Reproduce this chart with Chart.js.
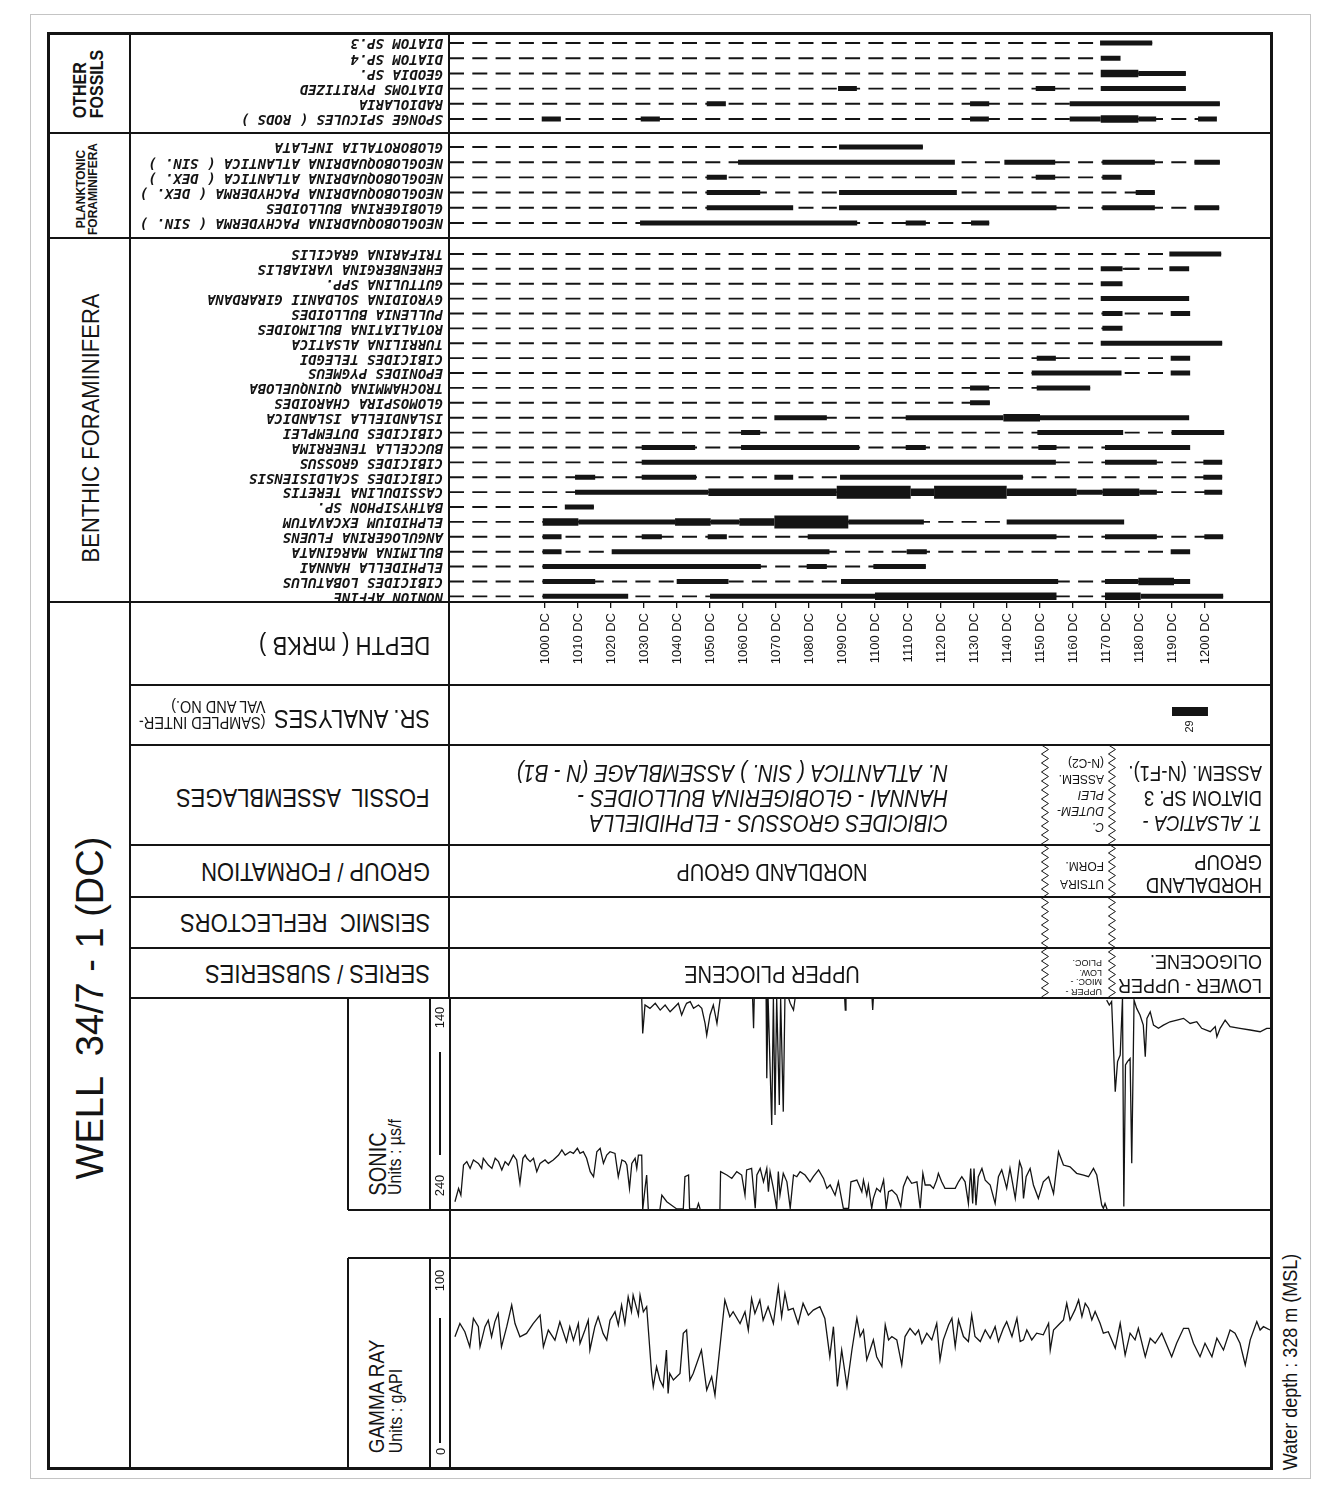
<!DOCTYPE html>
<html lang="en">
<head>
<meta charset="utf-8">
<title>Well 34/7-1 (DC) biostratigraphic range chart</title>
<script src="https://cdn.jsdelivr.net/npm/chart.js@4.4.1/dist/chart.umd.min.js"></script>
<style>
  html, body { margin: 0; padding: 0; background: #fff; }
  #page { position: relative; width: 1326px; height: 1489px; overflow: hidden; }
  .ln { position: absolute; background: #141414; }
  .edge { position: absolute; border: 1px solid #c4c4c4; box-sizing: border-box; }
  .tx { position: absolute; white-space: pre; transform-origin: 50% 50%; color: #141414; }
</style>
</head>
<body>
<div id="page"></div>
<script>
// ---------------- data ----------------
const DEPTH_MIN = 970.9;   // depth (m) at the left edge of the plotting panel
const DEPTH_MAX = 1220.0;  // depth (m) at the right edge
const depthTicks = [1000,1010,1020,1030,1040,1050,1060,1070,1080,1090,1100,1110,1120,1130,1140,1150,1160,1170,1180,1190,1200];

// occurrence ranges: [top depth, base depth, abundance class 1..4]
const otherTaxa = ['DIATOM SP.3','DIATOM SP.4','GEODIA SP.','DIATOMS PYRITIZED','RADIOLARIA','SPONGE SPICULES ( RODS )'];
const otherRanges = [
  [[1168.2,1184.0,2]],
  [[1168.4,1174.4,2]],
  [[1168.4,1179.8,3],[1179.8,1194.2,2]],
  [[1088.8,1094.5,2],[1148.7,1154.6,2],[1168.4,1194.2,2]],
  [[1049.0,1054.8,2],[1128.8,1134.6,2],[1159.0,1204.5,2]],
  [[999.0,1004.8,2],[1029.0,1034.8,2],[1128.8,1134.5,2],[1159.0,1168.4,2],[1168.4,1179.8,3],[1179.8,1185.2,2],[1197.9,1203.6,2]]
];

const planktonTaxa = ['GLOBOROTALIA INFLATA','NEOGLOBOQUADRINA ATLANTICA ( SIN. )','NEOGLOBOQUADRINA ATLANTICA ( DEX. )','NEOGLOBOQUADRINA PACHYDERMA ( DEX. )','GLOBIGERINA BULLOIDES','NEOGLOBOQUADRINA PACHYDERMA ( SIN. )'];
const planktonRanges = [
  [[1089.1,1114.5,2]],
  [[1058.5,1124.2,2],[1139.2,1154.6,2],[1168.9,1184.8,2],[1196.8,1204.5,2]],
  [[1049.0,1055.1,2],[1148.7,1154.6,2],[1168.9,1174.7,2]],
  [[1049.0,1065.2,2],[1089.1,1124.8,2],[1179.0,1184.8,2]],
  [[1049.0,1075.2,2],[1089.1,1155.0,2],[1168.9,1184.8,2],[1196.8,1204.3,2]],
  [[1028.8,1094.6,2],[1109.3,1115.4,2],[1129.1,1134.6,2]]
];

const benthicTaxa = ['TRIFARINA GRACILIS','EHRENBERGINA VARIABLIS','GUTTULINA SPP.','GYROIDINA SOLDANII GIRARDANA','PULLENIA BULLOIDES','ROTALIATINA BULIMOIDES','TURRILINA ALSATICA','CIBICIDES TELEGDI','EPONIDES PYGMEUS','TROCHAMMINA QUINQUELOBA','GLOMOSPIRA CHAROIDES','ISLANDIELLA ISLANDICA','CIBICIDES DUTEMPLEI','BUCCELLA TENERRIMA','CIBICIDES GROSSUS','CIBICIDES SCALDISIENSIS','CASSIDULINA TERETIS','BATHYSIPHON SP.','ELPHIDIUM EXCAVATUM','ANGULOGERINA FLUENS','BULIMINA MARGINATA','ELPHIDELLA HANNAI','CIBICIDES LOBATULUS','NONION AFFINE'];
const benthicRanges = [
  [[1189.2,1204.9,2]],
  [[1168.4,1175.0,2],[1175.0,1180.0,1],[1189.2,1195.2,2]],
  [[1168.4,1175.0,2]],
  [[1168.4,1195.2,2]],
  [[1168.9,1175.0,2],[1189.6,1195.5,2]],
  [[1168.9,1175.0,2]],
  [[1168.4,1205.2,2]],
  [[1149.0,1154.8,2],[1189.6,1195.5,2]],
  [[1147.5,1174.7,2],[1189.6,1195.5,2]],
  [[1128.8,1134.6,2],[1149.0,1165.2,2]],
  [[1128.8,1134.8,2]],
  [[1069.5,1085.4,2],[1109.3,1138.9,2],[1138.9,1150.0,3],[1150.0,1195.2,2]],
  [[1059.4,1065.2,2],[1149.2,1175.2,2],[1189.9,1205.8,2]],
  [[1029.3,1045.5,2],[1059.4,1095.2,2],[1109.3,1115.4,2],[1149.5,1155.0,2],[1169.7,1195.5,2]],
  [[1029.3,1154.8,2],[1169.7,1185.4,2],[1199.5,1205.2,2]],
  [[1009.1,1015.2,2],[1029.3,1045.8,2],[1069.5,1075.2,2],[1089.4,1144.8,2],[1199.5,1205.2,2]],
  [[1009.1,1049.5,2],[1049.5,1088.4,3],[1088.4,1110.8,4],[1110.8,1117.9,3],[1117.9,1139.9,4],[1139.9,1161.1,3],[1161.1,1169.0,2],[1169.0,1180.1,3],[1180.1,1185.4,2],[1199.8,1205.2,2]],
  [[1006.0,1014.8,2]],
  [[999.3,1010.1,3],[1010.1,1039.4,2],[1039.4,1050.2,3],[1050.2,1058.9,2],[1058.9,1069.5,3],[1069.5,1091.9,4],[1091.9,1114.8,2],[1139.9,1175.5,2]],
  [[999.3,1005.0,2],[1029.3,1035.4,2],[1049.3,1055.1,2],[1079.6,1155.0,2],[1169.7,1185.4,2],[1199.8,1205.5,2]],
  [[999.3,1005.0,2],[1020.2,1086.2,2],[1109.6,1115.7,2],[1189.6,1195.5,2]],
  [[999.3,1065.4,2],[1079.3,1085.4,2],[1099.5,1115.4,2]],
  [[999.3,1015.2,2],[1039.9,1055.6,2],[1089.7,1155.5,2],[1169.7,1179.8,2],[1179.8,1190.6,3],[1190.6,1195.5,2]],
  [[999.3,1025.2,2],[1050.0,1100.0,2],[1100.0,1155.0,3],[1169.7,1180.5,3],[1180.5,1205.5,2]]
];

// Sr analyses: [top, base, sample number]
const srSamples = [[1190.0, 1200.9, '29']];

// chronostratigraphic / lithostratigraphic zones (boundaries in m)
const zoneBounds = [1151.5, 1171.8];
const assemblages = [
  ['CIBICIDES GROSSUS - ELPHIDIELLA','HANNAI - GLOBIGERINA BULLOIDES -','N. ATLANTICA ( SIN. ) ASSEMBLAGE (N - B1)'],
  ['C.','DUTEM-','PLEI','ASSEM.','(N-C2)'],
  ['T. ALSATICA -','DIATOM SP. 3','ASSEM. (N-F1).']
];
const groups = [['NORDLAND GROUP'], ['UTSIRA','FORM.'], ['HORDALAND','GROUP']];
const seriesNames = [['UPPER PLIOCENE'], ['UPPER -','MIOC. -','LOW.','PLIOC.'], ['LOWER - UPPER','OLIGOCENE.']];

// sonic log, displayed (wrapped) value in us/ft; null = break in trace
const sonicLog = [
  [972.7,236.1],[973.8,229.8],[974.5,233.0],[975.3,218.8],[976.3,217.2],[977.3,220.4],[978.3,216.4],[979.8,218.0],[980.8,220.4],[981.3,215.6],
  [982.8,218.8],[983.9,220.4],[984.9,215.6],[985.9,217.2],[986.9,221.1],[987.9,217.2],[988.9,218.8],[990.4,214.1],[991.4,216.4],[992.4,227.4],
  [993.3,215.6],[994.0,214.1],[994.5,215.6],[995.5,217.2],[996.5,215.6],[997.5,221.9],[998.5,218.0],[1000.0,216.4],[1001.0,218.0],[1002.5,216.4],
  [1004.1,214.1],[1005.1,211.7],[1006.1,214.1],[1007.6,212.5],[1008.6,213.3],[1009.8,210.9],[1010.6,213.3],[1011.6,212.5],[1012.6,215.6],[1013.7,221.9],
  [1014.7,224.3],[1015.7,212.5],[1016.7,210.9],[1017.7,218.0],[1018.7,214.1],[1019.7,212.5],[1021.2,213.3],[1022.2,224.3],[1023.3,216.4],[1024.3,217.2],
  [1024.8,218.8],[1025.6,229.8],[1026.3,218.0],[1027.3,215.6],[1027.8,220.4],[1028.3,214.1],[1029.3,214.1],[1029.6,240.0],[1030.3,229.8],[1030.8,223.5],[1031.3,240.0],
  [1031.3,null],
  [1029.3,140.0],[1029.6,156.7],[1030.3,143.3],[1031.8,144.9],[1033.4,142.5],[1034.9,145.7],[1036.4,143.3],[1037.9,146.5],[1039.4,144.1],[1040.4,142.5],
  [1041.4,148.0],[1042.4,144.1],[1042.9,142.5],[1044.0,141.7],[1045.0,144.9],[1046.5,143.3],[1047.5,144.9],[1048.5,152.0],[1049.0,157.5],[1050.0,148.0],
  [1051.0,143.3],[1052.1,152.0],[1053.1,140.0],
  [1053.1,null],
  [1034.8,240.0],[1035.4,233.0],[1036.9,236.1],[1039.9,239.5],[1041.9,239.5],[1042.4,224.3],[1043.5,223.5],[1043.8,239.5],[1046.0,239.5],[1046.5,236.9],[1047.0,239.5],
  [1047.0,null],
  [1053.0,240.0],[1053.2,221.9],[1055.1,223.5],[1056.6,225.1],[1058.1,221.9],[1059.6,223.5],[1060.6,233.0],[1061.1,221.1],[1062.6,220.4],[1063.7,239.2],
  [1064.2,223.5],[1065.2,220.4],[1066.2,226.7],[1067.2,220.4],[1067.7,231.4],[1068.2,221.9],[1069.2,229.8],[1070.2,239.2],[1070.7,221.9],[1071.2,233.0],
  [1072.2,222.7],[1073.3,226.7],[1074.3,239.2],[1075.3,223.5],[1076.3,224.3],[1077.3,221.9],[1078.8,223.5],[1080.3,226.7],[1081.3,224.3],[1082.9,221.1],
  [1084.4,225.1],[1085.4,229.8],[1086.4,228.2],[1087.9,233.0],[1088.9,226.7],[1090.4,239.2],[1092.0,239.2],[1092.7,226.7],[1094.5,225.9],[1096.0,231.4],
  [1096.5,225.9],[1097.5,233.0],[1098.0,228.2],[1099.0,239.2],[1099.5,234.5],[1100.5,229.8],[1101.6,231.4],[1102.6,225.9],[1103.4,239.2],[1104.1,231.4],
  [1105.1,230.6],[1106.6,233.0],[1107.8,238.4],[1108.6,229.0],[1109.8,224.3],[1111.1,227.4],[1112.7,226.7],[1113.7,239.2],[1114.5,222.7],[1115.2,228.2],
  [1116.7,228.2],[1117.7,229.8],[1118.7,225.9],[1119.2,222.7],[1120.2,226.7],[1121.2,229.8],[1122.8,229.8],[1124.3,229.8],[1125.3,226.7],[1126.3,224.3],
  [1127.3,226.7],[1128.3,236.9],[1129.0,220.4],[1129.6,236.9],[1130.0,220.4],[1130.6,237.7],[1131.3,224.3],[1132.4,220.4],[1133.4,225.9],[1134.9,228.2],
  [1136.4,236.9],[1137.4,224.3],[1138.4,221.1],[1139.4,226.7],[1139.9,229.8],[1140.9,220.4],[1142.5,234.5],[1143.8,217.2],[1144.5,220.4],[1145.0,234.5],
  [1145.8,224.3],[1147.0,220.4],[1148.0,228.2],[1149.5,234.5],[1151.0,226.7],[1152.6,224.3],[1154.1,232.2],[1155.6,212.5],[1157.1,218.8],[1159.1,219.6],
  [1161.1,222.7],[1163.2,223.5],[1164.7,224.3],[1166.2,220.4],[1167.2,223.5],[1168.7,237.7],[1169.2,239.2],[1169.7,236.9],[1170.4,240.0],
  [1170.4,null],
  [1062.9,140.0],[1063.2,154.3],[1063.4,140.0],[1063.4,null],
  [1067.0,140.0],[1067.2,177.9],[1067.6,140.0],[1068.7,199.9],[1069.2,140.0],[1069.7,195.2],[1070.2,140.0],[1071.0,190.5],[1071.4,140.0],[1072.2,193.6],[1072.7,140.0],[1072.7,null],
  [1073.8,140.0],[1074.3,142.5],[1075.3,145.7],[1075.8,140.0],[1075.8,null],
  [1090.8,140.0],[1091.0,145.7],[1091.2,140.0],[1091.2,null],
  [1099.1,140.0],[1099.3,145.7],[1099.5,140.0],[1099.5,null],
  [1170.2,141.0],[1171.0,143.3],[1171.7,141.7],[1172.8,184.2],[1173.5,170.0],[1174.3,166.9],[1175.0,140.0],[1175.4,238.4],[1175.9,171.6],[1176.5,170.0],
  [1177.3,168.5],[1177.8,218.0],[1178.5,141.0],[1179.3,144.9],[1180.3,148.0],[1181.3,152.8],[1181.9,167.7],[1182.4,149.6],[1183.4,146.5],[1184.4,152.8],
  [1185.9,154.3],[1187.4,152.8],[1189.4,151.2],[1191.5,150.4],[1193.5,149.6],[1195.5,152.0],[1197.5,151.2],[1199.0,154.3],[1201.6,155.9],[1203.1,153.5],
  [1203.6,158.3],[1204.6,154.3],[1206.1,150.4],[1207.6,153.5],[1210.6,154.3],[1213.7,155.1],[1216.7,155.9],[1218.7,154.3],[1220.2,154.3]
];

// gamma ray log: [depth m, gAPI]
const gammaRay = [
  [972.7,62.5],[974.2,68.8],[975.7,64.9],[977.2,57.7],[978.3,71.2],[979.8,67.3],[980.3,57.7],[981.8,67.3],[982.8,70.4],[983.8,62.5],
  [984.8,69.6],[985.8,73.6],[986.8,57.7],[988.4,67.3],[989.9,77.6],[990.9,68.8],[992.4,62.5],[994.4,64.1],[996.4,68.8],[998.5,72.8],
  [999.5,57.7],[1001.0,65.7],[1003.0,60.9],[1004.5,69.6],[1006.5,60.1],[1007.5,67.3],[1008.6,60.9],[1010.1,68.8],[1010.6,59.3],[1012.1,65.7],
  [1013.1,70.4],[1013.6,56.2],[1015.1,67.3],[1016.1,72.0],[1017.6,64.1],[1018.7,60.9],[1019.7,70.4],[1021.2,74.4],[1022.2,68.1],[1023.2,77.6],
  [1024.2,68.8],[1025.2,81.5],[1026.2,74.4],[1026.7,82.3],[1028.3,72.8],[1028.8,82.3],[1029.8,74.4],[1030.8,76.8],[1032.3,45.0],[1032.8,38.7],
  [1033.8,48.2],[1034.8,41.9],[1035.8,38.7],[1036.8,56.2],[1037.3,35.5],[1037.8,45.0],[1038.9,41.9],[1040.9,45.0],[1041.9,64.1],[1042.9,65.7],
  [1043.9,41.9],[1044.9,45.0],[1047.4,56.2],[1049.0,37.1],[1050.5,43.5],[1051.5,34.7],[1052.0,42.7],[1054.5,80.0],[1056.0,72.0],[1057.0,74.4],
  [1059.1,68.8],[1060.6,74.4],[1061.6,65.7],[1062.6,80.7],[1063.6,73.6],[1065.1,80.0],[1066.1,70.4],[1067.6,76.8],[1069.2,68.8],[1070.7,86.3],
  [1071.7,72.0],[1072.7,83.1],[1073.7,75.2],[1075.2,76.0],[1076.7,68.8],[1078.2,78.4],[1079.8,72.8],[1081.3,75.2],[1083.3,76.8],[1084.8,71.2],
  [1086.3,53.0],[1087.4,67.3],[1088.6,38.8],[1089.9,56.2],[1091.5,38.8],[1093.0,56.2],[1094.5,71.3],[1095.5,62.6],[1096.5,65.7],[1097.5,51.5],
  [1098.5,56.2],[1099.5,61.0],[1100.5,53.0],[1102.1,48.3],[1103.1,68.1],[1104.1,61.0],[1105.1,62.6],[1106.6,61.0],[1108.1,49.1],[1109.1,62.6],
  [1110.6,66.5],[1112.2,63.4],[1113.2,65.7],[1114.2,59.4],[1115.7,64.2],[1117.2,61.0],[1118.7,68.9],[1119.7,51.5],[1120.7,61.0],[1122.3,68.1],
  [1123.3,71.3],[1124.3,57.8],[1125.3,70.5],[1126.8,62.6],[1128.3,60.2],[1129.3,72.9],[1130.3,62.6],[1131.9,60.2],[1133.4,65.7],[1134.9,61.8],
  [1136.4,67.3],[1137.4,60.2],[1138.9,66.5],[1139.9,69.7],[1141.5,62.6],[1143.0,71.3],[1144.0,60.2],[1145.0,61.0],[1146.0,65.7],[1147.5,61.0],
  [1149.0,64.2],[1151.0,63.4],[1152.6,68.9],[1153.1,56.2],[1154.1,65.7],[1156.1,68.9],[1157.1,70.5],[1158.1,78.4],[1159.1,70.5],[1160.6,75.3],
  [1161.7,80.0],[1162.7,72.1],[1163.7,78.4],[1164.7,76.1],[1165.7,70.5],[1166.7,74.5],[1168.2,68.9],[1169.2,64.2],[1170.7,64.9],[1172.8,57.0],
  [1174.3,68.9],[1175.8,53.8],[1177.3,64.2],[1178.8,61.0],[1179.8,66.5],[1181.9,53.0],[1183.4,61.8],[1184.9,59.4],[1186.9,64.2],[1189.9,53.0],
  [1191.4,59.4],[1193.5,66.5],[1195.0,66.5],[1196.5,59.4],[1198.5,53.0],[1200.0,59.4],[1202.1,53.0],[1203.6,61.8],[1205.6,56.2],[1207.6,65.7],
  [1209.1,64.2],[1210.6,59.4],[1212.2,49.1],[1213.7,61.0],[1215.7,69.7],[1216.7,65.7],[1217.7,67.3],[1219.7,65.7]
];

// ---------------- layout & styling ----------------
const INK = '#141414';
const SANS = "'Liberation Sans', Arial, Helvetica, sans-serif";
const MONO = "'DejaVu Sans Mono', 'Liberation Mono', monospace";
const BAR_WIDTH = {1: 2, 2: 5, 3: 7.5, 4: 13};

const PANEL_L = 449, PANEL_R = 1271, COL1 = 130;
const ROWS = [685, 745, 845, 897, 948, 998];

Chart.defaults.font.family = SANS;
Chart.defaults.color = INK;

const page = document.getElementById('page');

// light sheet border around the whole figure
const sheet = document.createElement('div');
sheet.className = 'edge';
sheet.style.cssText = 'left:30px;top:14px;width:1281px;height:1465px;';
page.appendChild(sheet);

function canvasAt(x, y, w, h) {
  const c = document.createElement('canvas');
  c.width = w; c.height = h;
  c.style.cssText = `position:absolute;left:${x}px;top:${y}px;width:${w}px;height:${h}px;`;
  page.appendChild(c);
  return c;
}

function baseOptions(extra) {
  return Object.assign({
    responsive: false, animation: false, events: [], devicePixelRatio: 1,
    elements: {point: {radius: 0, hoverRadius: 0, hitRadius: 0}, line: {tension: 0}},
  }, extra, {plugins: Object.assign({legend: {display: false}, tooltip: {enabled: false}}, extra.plugins || {})});
}

const hiddenDepth = () => ({type: 'linear', min: DEPTH_MIN, max: DEPTH_MAX, display: false});

// dashed "searched" line from top of panel to deepest record, then solid bars by abundance
function rangeDatasets(ranges) {
  const dash = [];
  ranges.forEach((segs, i) => {
    const last = Math.max(...segs.map(s => s[1]));
    dash.push({x: DEPTH_MIN, y: i}, {x: last, y: i}, {x: last, y: null});
  });
  const sets = [{data: dash, borderColor: INK, borderWidth: 1.9, borderDash: [15, 8.3],
                 borderCapStyle: 'butt', spanGaps: false, order: 10}];
  [4, 3, 2, 1].forEach(k => {
    const pts = [];
    ranges.forEach((segs, i) => segs.filter(s => s[2] === k)
      .forEach(s => pts.push({x: s[0], y: i}, {x: s[1], y: i}, {x: s[1], y: null})));
    if (pts.length) sets.push({data: pts, borderColor: INK, borderWidth: BAR_WIDTH[k],
                               borderCapStyle: 'butt', spanGaps: false, order: k});
  });
  return sets;
}

// taxon names, upside-down, right-aligned against the panel
const taxonLabels = {
  id: 'taxonLabels',
  afterDraw(chart, args, opts) {
    const {ctx, chartArea, scales: {y}} = chart;
    ctx.save();
    ctx.font = `italic bold 14px ${MONO}`;
    ctx.fillStyle = INK;
    ctx.textAlign = 'left';
    ctx.textBaseline = 'middle';
    opts.names.forEach((n, i) => {
      ctx.save();
      ctx.translate(chartArea.left - 6, y.getPixelForValue(i));
      ctx.rotate(Math.PI);
      ctx.fillText(n, 0, 0);
      ctx.restore();
    });
    ctx.restore();
  }
};

function rangeChart(top, bottom, names, ranges, yMin, yMax, axisHeight) {
  const c = canvasAt(COL1, top, PANEL_R - COL1, bottom - top + (axisHeight || 0));
  const x = axisHeight ? {
    type: 'linear', min: DEPTH_MIN, max: DEPTH_MAX, position: 'bottom',
    afterBuildTicks: s => { s.ticks = depthTicks.map(v => ({value: v})); },
    afterFit: s => { s.height = axisHeight; },
    grid: {drawOnChartArea: false, drawTicks: true, tickLength: 6, color: INK, lineWidth: 1.3},
    border: {display: false},
    ticks: {autoSkip: false, minRotation: 90, maxRotation: 90, padding: 5,
            font: {size: 13}, color: INK, callback: v => v + ' DC'}
  } : hiddenDepth();
  return new Chart(c, {
    type: 'line',
    data: {datasets: rangeDatasets(ranges)},
    options: baseOptions({
      layout: {padding: {left: PANEL_L - COL1, right: 0, top: 0, bottom: 0}},
      scales: {x, y: {type: 'linear', min: yMin, max: yMax, reverse: true, display: false}},
      plugins: {taxonLabels: {names}}
    }),
    plugins: [taxonLabels]
  });
}

rangeChart(33, 133, otherTaxa, otherRanges, -0.66, 5.92);
rangeChart(133, 238, planktonTaxa, planktonRanges, -0.92, 5.99);
rangeChart(238, 602, benthicTaxa, benthicRanges, -1.07, 23.38, 83);

// ---- strip: Sr samples, zone boundaries and zone names ----
function drawLines(ctx, lines, x, y, o) {
  ctx.save();
  ctx.translate(x, y);
  ctx.rotate(o.rot);
  ctx.scale(1, o.sy || 1);
  ctx.textAlign = o.align || 'left';
  ctx.textBaseline = 'middle';
  ctx.fillStyle = INK;
  lines.forEach((t, i) => {
    ctx.font = `${i < (o.italic || 0) ? 'italic ' : ''}${o.size}px ${SANS}`;
    ctx.fillText(t, 0, i * (o.lh || 0) / (o.sy || 1));
  });
  ctx.restore();
}

// placement of zone names: anchor depth, page y of first line, size, line height, alignment
const zoneText = [
  {src: assemblages, at: [
    {d: 1122.1, y: 822, size: 20.5, lh: 25, italic: 3, sy: 1.18},
    {d: 1169.4, y: 827, size: 12, lh: 16, italic: 3, sy: 1.1},
    {d: 1217.3, y: 822, size: 18.5, lh: 25, italic: 1, sy: 1.15}]},
  {src: groups, at: [
    {d: 1068.8, y: 871, size: 20, align: 'center', sy: 1.18},
    {d: 1169.4, y: 884, size: 12, lh: 18, sy: 1.1},
    {d: 1217.3, y: 884, size: 18.5, lh: 23, sy: 1.15}]},
  {src: seriesNames, at: [
    {d: 1068.8, y: 973, size: 20, align: 'center', sy: 1.18},
    {d: 1168.8, y: 991, size: 9, lh: 9.5},
    {d: 1217.3, y: 985, size: 18, lh: 24, sy: 1.15}]}
];

const SR_Y = 711.5;
const stripPlugin = {
  id: 'strip',
  afterDatasetsDraw(chart) {
    const {ctx, scales: {x, y}} = chart;
    ctx.save();
    ctx.strokeStyle = INK;
    ctx.lineWidth = 1;
    const top = y.getPixelForValue(ROWS[1]), bot = y.getPixelForValue(ROWS[5]);
    zoneBounds.forEach(b => {
      const px = x.getPixelForValue(b);
      ctx.beginPath();
      let k = 0;
      for (let yy = top; yy <= bot + 0.1; yy += 4.5, k++) {
        const xx = px + (k % 2 ? 3.5 : -3.5);
        if (k === 0) ctx.moveTo(xx, yy); else ctx.lineTo(xx, yy);
      }
      ctx.stroke();
    });
    zoneText.forEach(group => group.at.forEach((o, zi) => {
      drawLines(ctx, group.src[zi], x.getPixelForValue(o.d), y.getPixelForValue(o.y),
                Object.assign({rot: Math.PI}, o));
    }));
    srSamples.forEach(s => {
      drawLines(ctx, [s[2]], x.getPixelForValue((s[0] + s[1]) / 2), y.getPixelForValue(SR_Y + 15),
                {rot: -Math.PI / 2, align: 'center', size: 11});
    });
    ctx.restore();
  }
};

new Chart(canvasAt(PANEL_L, ROWS[0], PANEL_R - PANEL_L, ROWS[5] - ROWS[0]), {
  type: 'line',
  data: {datasets: srSamples.map(s => ({
    data: [{x: s[0], y: SR_Y}, {x: s[1], y: SR_Y}],
    borderColor: INK, borderWidth: 9, borderCapStyle: 'butt'
  }))},
  options: baseOptions({
    scales: {x: hiddenDepth(), y: {type: 'linear', min: ROWS[0], max: ROWS[5], reverse: true, display: false}}
  }),
  plugins: [stripPlugin]
});

// ---- wireline logs ----
function logChart(top, bottom, pairs, yMin, yMax, reverse) {
  return new Chart(canvasAt(PANEL_L, top, PANEL_R - PANEL_L, bottom - top), {
    type: 'line',
    data: {datasets: [{
      data: pairs.map(p => ({x: p[0], y: p[1]})),
      borderColor: INK, borderWidth: 1.3, spanGaps: false
    }]},
    options: baseOptions({
      scales: {x: hiddenDepth(), y: {type: 'linear', min: yMin, max: yMax, reverse, display: false}}
    })
  });
}
logChart(998, 1210, sonicLog, 140, 240, true);
logChart(1258, 1468, gammaRay, 0, 100, false);

// ---------------- frame ----------------
function rect(x, y, w, h) {
  const d = document.createElement('div');
  d.className = 'ln';
  d.style.left = x + 'px'; d.style.top = y + 'px';
  d.style.width = w + 'px'; d.style.height = h + 'px';
  page.appendChild(d);
}
const hline = (x1, x2, y, w = 1.5) => rect(x1, y - w / 2, x2 - x1, w);
const vline = (x, y1, y2, w = 1.5) => rect(x - w / 2, y1, w, y2 - y1);

hline(46.5, 1272.5, 33, 3); hline(46.5, 1272.5, 1468, 3);
vline(48, 31.5, 1469.5, 3); vline(1271, 31.5, 1469.5, 3);
vline(130, 33, 1468, 2.5);
vline(448.5, 33, 998, 2); vline(450, 998, 1468, 1.8);
[133, 238, 602].forEach(y => hline(48, 1271, y, 2.2));
ROWS.forEach(y => hline(130, 1271, y, 1.6));
hline(348, 1271, 1210, 1.6); hline(348, 1271, 1258, 1.6);
vline(348, 998, 1210, 1.6); vline(348, 1258, 1468, 1.6);
vline(430, 998, 1210, 1.2); vline(430, 1258, 1468, 1.2);
vline(440, 1052, 1155, 1.2); vline(440, 1318, 1443, 1.2);

// ---------------- headings ----------------
function txt(lines, o) {
  const el = document.createElement('div');
  el.className = 'tx';
  el.style.font = `${o.style || 'normal'} ${o.weight || 'normal'} ${o.size}px ${o.family || SANS}`;
  el.style.lineHeight = (o.lh || o.size) + 'px';
  el.style.textAlign = o.align || 'left';
  el.textContent = [].concat(lines).join('\n');
  page.appendChild(el);
  const w = el.offsetWidth, h = el.offsetHeight;
  const rot = o.rot || 0;
  const side = Math.abs(rot) % 180 === 90;
  const sy = o.sy || 1;
  const sw = side ? h * sy : w, sh = side ? w : h * sy;
  const ax = o.ax ?? 0.5, ay = o.ay ?? 0.5;
  const cx = o.x + (0.5 - ax) * sw, cy = o.y + (0.5 - ay) * sh;
  el.style.left = (cx - w / 2) + 'px';
  el.style.top = (cy - h / 2) + 'px';
  el.style.transform = `rotate(${rot}deg) scale(1, ${sy})`;
}

txt(['OTHER', 'FOSSILS'], {x: 88, y: 118, rot: -90, ay: 1, size: 16, weight: 'bold', lh: 15, sy: 1.1});
txt(['PLANKTONIC', 'FORAMINIFERA'], {x: 87, y: 189, rot: -90, size: 12, weight: 'bold', lh: 11, align: 'center', sy: 1.1});
txt('BENTHIC FORAMINIFERA', {x: 91, y: 428, rot: -90, size: 22, sy: 1.1});
txt('WELL  34/7 - 1 (DC)', {x: 90, y: 1008, rot: -90, size: 38});

txt('DEPTH ( mRKB )', {x: 430, y: 645, rot: 180, ax: 1, size: 22, sy: 1.2});
txt('SR. ANALYSES', {x: 430, y: 718, rot: 180, ax: 1, size: 22, sy: 1.2});
txt(['(SAMPLED INTER-', 'VAL AND NO.)'], {x: 266, y: 714, rot: 180, ax: 1, size: 14.5, lh: 15, sy: 1.1});
txt('FOSSIL  ASSEMBLAGES', {x: 430, y: 797, rot: 180, ax: 1, size: 22, sy: 1.2});
txt('GROUP / FORMATION', {x: 430, y: 871, rot: 180, ax: 1, size: 22, sy: 1.2});
txt('SEISMIC  REFLECTORS', {x: 430, y: 922, rot: 180, ax: 1, size: 22, sy: 1.2});
txt('SERIES / SUBSERIES', {x: 430, y: 973, rot: 180, ax: 1, size: 22, sy: 1.2});

txt('SONIC', {x: 377, y: 1195, rot: -90, ay: 1, size: 20, sy: 1.15});
txt('Units : µs/f', {x: 396, y: 1195, rot: -90, ay: 1, size: 16, sy: 1.1});
txt('240', {x: 440, y: 1185, rot: -90, size: 13});
txt('140', {x: 440, y: 1017, rot: -90, size: 13});

txt('GAMMA RAY', {x: 377, y: 1453, rot: -90, ay: 1, size: 19, sy: 1.15});
txt('Units : gAPI', {x: 396, y: 1453, rot: -90, ay: 1, size: 16, sy: 1.1});
txt('0', {x: 440, y: 1451, rot: -90, size: 13});
txt('100', {x: 440, y: 1280, rot: -90, size: 13});

txt('Water depth : 328 m (MSL)', {x: 1290, y: 1470, rot: -90, ay: 1, size: 18, sy: 1.1});
</script>
</body>
</html>
